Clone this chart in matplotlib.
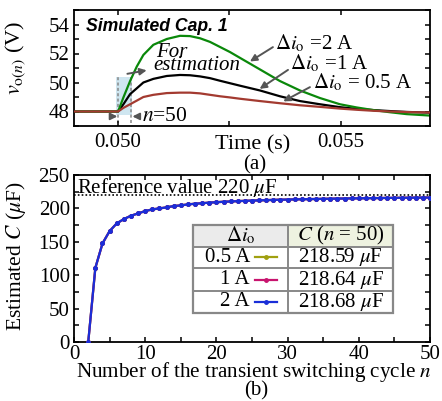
import matplotlib
matplotlib.use("Agg")
import matplotlib.pyplot as plt
from matplotlib.patches import Rectangle
from matplotlib.ticker import MultipleLocator, FixedLocator

plt.rcParams['font.family'] = ['Liberation Serif', 'DejaVu Serif']
plt.rcParams['mathtext.fontset'] = 'stix'
plt.rcParams['font.size'] = 15

# ---------------- data (a) ----------------
t_s = [0.04900, 0.050000, 0.050119, 0.050269, 0.050419, 0.050567, 0.050791,
       0.051092, 0.051390, 0.051614, 0.051839, 0.052063, 0.052287, 0.052511,
       0.052735, 0.053184, 0.053632, 0.054081, 0.054529, 0.054978, 0.055352,
       0.055724, 0.056099, 0.056473, 0.057000]
v_2A = [48.0, 48.0, 48.97, 50.1, 51.1, 51.9, 52.6, 53.0, 53.22, 53.2, 53.05,
        52.8, 52.45, 52.1, 51.7, 50.9, 50.1, 49.45, 48.93, 48.5, 48.28, 48.1,
        47.95, 47.82, 47.72]
v_1A = [48.0, 48.0, 48.5, 49.2, 49.6, 50.0, 50.25, 50.45, 50.52, 50.5, 50.42,
        50.3, 50.12, 49.95, 49.78, 49.45, 49.05, 48.72, 48.5, 48.3, 48.18,
        48.1, 48.03, 47.97, 47.92]
v_05A = [48.0, 48.0, 48.25, 48.5, 48.75, 49.0, 49.15, 49.27, 49.3, 49.3, 49.25,
         49.15, 49.05, 48.97, 48.88, 48.72, 48.57, 48.43, 48.32, 48.2, 48.12,
         48.05, 48.0, 47.96, 47.93]

# ---------------- data (b) ----------------
n_cycle = list(range(2, 51))
C_05A = [0, 111, 147.5, 166, 177.5, 184, 189, 192.5, 196, 198.5, 200, 201.5,
         203.5, 204.5, 206, 207, 207.8, 208.6, 209.3, 209.9, 210.4, 210.9,
         211.3, 211.7, 212.0, 212.4, 212.7, 213.0, 213.2, 213.5, 213.7, 213.9,
         214.1, 214.3, 214.5, 214.7, 214.8, 215.0, 215.1, 215.3, 215.4, 215.5,
         215.7, 215.8, 215.9, 216.0, 216.1, 216.2, 216.2]
C_1A = [0, 111, 147.5, 166, 177.5, 184, 189, 192.5, 196, 198.5, 200, 201.5,
        203.5, 204.5, 206, 207, 207.8, 208.6, 209.3, 209.9, 210.4, 210.9,
        211.3, 211.7, 212.0, 212.4, 212.7, 213.0, 213.2, 213.5, 213.7, 213.9,
        214.1, 214.3, 214.5, 214.7, 214.8, 215.0, 215.1, 215.3, 215.4, 215.5,
        215.7, 215.8, 215.9, 216.0, 216.1, 216.2, 216.25]
C_2A = [0, 111, 147.5, 166, 177.5, 184, 189, 192.5, 196, 198.5, 200, 201.5,
        203.5, 204.5, 206, 207, 207.8, 208.6, 209.3, 209.9, 210.4, 210.9,
        211.3, 211.7, 212.0, 212.4, 212.7, 213.0, 213.2, 213.5, 213.7, 213.9,
        214.1, 214.3, 214.5, 214.7, 214.8, 215.0, 215.1, 215.3, 215.4, 215.5,
        215.7, 215.8, 215.9, 216.0, 216.1, 216.2, 216.3]
ref_value = 220
table_rows = ['0.5 A', '1 A', '2 A']
table_vals = [r'218.59 $\mu$F', r'218.64 $\mu$F', r'218.68 $\mu$F']

col_green = '#0a880a'
col_black = '#000000'
col_red = '#a33a30'
col_olive = '#a0a010'
col_mag = '#c8146e'
col_blue = '#1a2ed8'
grey = '#555555'

fig = plt.figure(figsize=(4.42, 4.01), dpi=100)
W, H = 442, 401
ax1 = fig.add_axes([74 / W, 1 - 126 / H, 356 / W, 116 / H])
ax2 = fig.add_axes([74 / W, 1 - 342 / H, 356 / W, 167 / H])

for ax in (ax1, ax2):
    for s in ax.spines.values():
        s.set_linewidth(1.3)
    ax.tick_params(which='both', direction='in', top=True, right=True,
                   length=3.5, width=1.1, labelsize=15, pad=3)

# ---------------- panel (a) ----------------
ax1.axvspan(0.049963, 0.050305, ymin=(47.77 - 47) / 8, ymax=(50.4 - 47) / 8,
            facecolor='#cfe6f0', edgecolor='none', zorder=0)
for xv in (0.0500, 0.050291):
    ax1.plot([xv, xv], [47.2, 50.4], ls=(0, (2, 1.5)), color='#888888', lw=1.1, zorder=1)
ax1.plot(t_s, v_05A, color=col_red, lw=1.6, zorder=3)
ax1.plot(t_s, v_1A, color=col_black, lw=1.6, zorder=2)
ax1.plot(t_s, v_2A, color=col_green, lw=1.6, zorder=2.5)
ax1.set_xlim(0.04901, 0.05700)
ax1.set_ylim(47, 55)
ax1.xaxis.set_major_locator(FixedLocator([0.050, 0.055]))
ax1.xaxis.set_minor_locator(FixedLocator([0.0525]))
ax1.set_xticklabels(['0.050', '0.055'])
ax1.yaxis.set_major_locator(FixedLocator([48, 50, 52, 54]))
ax1.yaxis.set_minor_locator(FixedLocator([47, 49, 51, 53, 55]))
ax1.tick_params(axis='x', pad=5)
ax1.set_xlabel('Time (s)', fontsize=16)
ax1.xaxis.set_label_coords(0.503, -0.08)
ax1.set_ylabel(r'$v_{\mathrm{o}(n)}$ (V)', fontsize=16)
ax1.yaxis.set_label_coords(-0.128, 0.59)

ax1.text(0.034, 0.855, 'Simulated Cap. 1', transform=ax1.transAxes,
         family='Liberation Sans', fontweight='bold', fontstyle='italic',
         fontsize=12.7, va='center', ha='left')

arr = dict(arrowstyle='-|>', color=grey, lw=1.4, mutation_scale=10, shrinkA=0, shrinkB=0)
ax1.annotate('', xy=(0.052959, 51.45), xytext=(0.053474, 52.44), arrowprops=arr)
ax1.text(0.053520, 52.71, r'$\Delta i_{\mathrm{o}}$ =2 A', va='center', ha='left', fontsize=15)
ax1.annotate('', xy=(0.053176, 49.56), xytext=(0.053813, 50.87), arrowprops=arr)
ax1.text(0.053856, 51.32, r'$\Delta i_{\mathrm{o}}$ =1 A', va='center', ha='left', fontsize=15)
ax1.annotate('', xy=(0.053707, 48.7), xytext=(0.054305, 49.68), arrowprops=arr)
ax1.text(0.054364, 50.0, r'$\Delta i_{\mathrm{o}}$ = 0.5 A', va='center', ha='left', fontsize=15)

ax1.annotate('', xy=(0.050641, 50.84), xytext=(0.050208, 51.1 - 0.5), arrowprops=arr)
ax1.text(0.050852, 52.10, 'For', fontstyle='italic', va='center', ha='left', fontsize=15)
ax1.text(0.050785, 51.14, 'estimation', fontstyle='italic', va='center', ha='left', fontsize=15)

ax1.annotate('', xy=(0.049984, 47.66), xytext=(0.049821, 47.66), arrowprops=arr)
ax1.annotate('', xy=(0.050321, 47.66), xytext=(0.050493, 47.66), arrowprops=arr)
ax1.text(0.050531, 47.66, r'$n$=50', va='center', ha='left', fontsize=15.5)

fig.text(255 / W, 1 - 165 / H, '(a)', ha='center', va='center', fontsize=15)

# ---------------- panel (b) ----------------
ax2.axhline(ref_value, color='k', ls=(0, (1, 1.3)), lw=1.2, zorder=1)
ax2.text(0.008, 223, r'Reference value 220 $\mu$F', ha='left', va='baseline',
         fontsize=15, transform=ax2.get_yaxis_transform(), zorder=2)
ax2.plot(n_cycle, C_05A, color=col_olive, lw=1.6, marker='o', ms=2.5, zorder=3)
ax2.plot(n_cycle, C_1A, color=col_mag, lw=1.6, marker='o', ms=2.5, zorder=3)
ax2.plot(n_cycle, C_2A, color=col_blue, lw=1.6, marker='o', ms=2.5, zorder=3)
ax2.set_xlim(0, 50)
ax2.set_ylim(0, 250)
ax2.xaxis.set_major_locator(MultipleLocator(10))
ax2.xaxis.set_minor_locator(MultipleLocator(5))
ax2.yaxis.set_major_locator(MultipleLocator(50))
ax2.yaxis.set_minor_locator(MultipleLocator(25))
ax2.tick_params(axis='x', pad=2)
ax2.set_xlabel(r'Number of the transient switching cycle $n$', fontsize=15.2)
ax2.xaxis.set_label_coords(0.505, -0.105)
ax2.set_ylabel(r'Estimated $C$ ($\mu$F)', fontsize=15.5)
ax2.yaxis.set_label_coords(-0.13, 0.515)

# table
tx0, tx1, tx2 = 0.3334, 0.6020, 0.8969
ty = [0.7006, 0.5707, 0.4413, 0.3072, 0.1737]
T = ax2.transAxes
ax2.add_patch(Rectangle((tx0, ty[4]), tx2 - tx0, ty[0] - ty[4], transform=T,
                        facecolor='white', edgecolor='none', zorder=4))
ax2.add_patch(Rectangle((tx0, ty[1]), tx1 - tx0, ty[0] - ty[1], transform=T,
                        facecolor='#ebebeb', edgecolor='none', zorder=4))
ax2.add_patch(Rectangle((tx1, ty[1]), tx2 - tx1, ty[0] - ty[1], transform=T,
                        facecolor='#eef2e0', edgecolor='none', zorder=4))
ax2.add_patch(Rectangle((tx0, ty[4]), tx2 - tx0, ty[0] - ty[4], transform=T,
                        facecolor='none', edgecolor='#888888', lw=1.6, zorder=5))
for yv in ty[1:4]:
    ax2.plot([tx0, tx2], [yv, yv], transform=T, color='#888888', lw=1.4, zorder=5)
ax2.plot([tx1, tx1], [ty[0], ty[4]], transform=T, color='#888888', lw=1.4, zorder=5)
cx1 = (tx0 + tx1) / 2
cx2 = (tx1 + tx2) / 2
ax2.text(cx1, (ty[0] + ty[1]) / 2, r'$\Delta i_{\mathrm{o}}$', transform=T,
         ha='center', va='center', fontsize=15, zorder=6)
ax2.text(cx2, (ty[0] + ty[1]) / 2, r'$C$ ($n$ = 50)', transform=T,
         ha='center', va='center', fontsize=15, zorder=6)
line_cols = [col_olive, col_mag, col_blue]
for i in range(3):
    yc = (ty[i + 1] + ty[i + 2]) / 2
    ax2.text(0.4944, yc, table_rows[i], transform=T, ha='right', va='center',
             fontsize=15, zorder=6)
    ax2.plot([0.5084, 0.5702], [yc, yc], transform=T, color=line_cols[i], lw=1.6,
             zorder=6, clip_on=False)
    ax2.plot([0.5393], [yc], transform=T, color=line_cols[i], marker='o', ms=2.5,
             zorder=6, clip_on=False)
    ax2.text(cx2, yc, table_vals[i], transform=T, ha='center', va='center',
             fontsize=15, zorder=6)

fig.text(256 / W, 1 - 391 / H, '(b)', ha='center', va='center', fontsize=15)

fig.savefig('out.png', dpi=100)
